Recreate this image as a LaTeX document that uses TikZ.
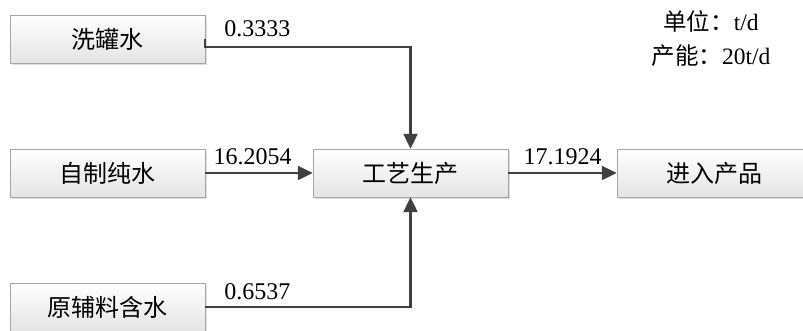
\documentclass[tikz,border=0pt]{standalone}
\usepackage{fontspec}
\setmainfont{Liberation Serif}
\newfontfamily\cjk{Noto Sans CJK SC}
\usepackage{tikz}
\usetikzlibrary{positioning}
\usetikzlibrary{arrows.meta}
\usetikzlibrary{shadows}
\definecolor{boxline}{RGB}{166,166,166}
\definecolor{boxfill}{RGB}{228,228,228}
\definecolor{flowline}{RGB}{64,64,64}

\begin{document}
\begin{tikzpicture}[x=1pt,y=-1pt]
	\useasboundingbox (0,0) rectangle (803,331);
	\begin{scope}[every node/.style={draw=boxline,top color=white,bottom color=boxfill,
	              minimum width=195pt,minimum height=48pt,inner sep=0pt,
	              drop shadow={opacity=0.25,shadow xshift=2pt,shadow yshift=-2pt},
	              font=\cjk\fontsize{24}{28}\selectfont}]
	    \node (W) at (107.5,39) {洗罐水};
	    \node (R) at (107.5,173) {自制纯水};
	    \node (M) at (107.5,307) {原辅料含水};
	    \node (P) at (410.5,173) {工艺生产};
	    \node (Q) at (714.5,173) {进入产品};
	\end{scope}

	% unit and capacity note
	\node (U) [align=center,font=\fontsize{23.5}{34}\selectfont] at (711,39)
	    {{\cjk 单位：}t/d\\{\cjk 产能：}20t/d};

	\begin{scope}[>={Triangle[length=15pt,width=14pt]},
	              every path/.style={draw=flowline,line width=2.2pt},
	              every node/.style={font=\fontsize{24}{28}\selectfont,inner sep=0pt,anchor=base,yshift=8pt}]
	    \path [->] (R) edge node[pos=0.44] {16.2054} (P);
	    \path [->] (P) edge node {17.1924} (Q);
	    \draw [->] (W.east) -- ++(0,8) -| node[pos=0.127,yshift=2pt] {0.3333} (P);
	    \draw [->] (M) -| node[pos=0.127] {0.6537} (P);
	\end{scope}
\end{tikzpicture}
\end{document}
